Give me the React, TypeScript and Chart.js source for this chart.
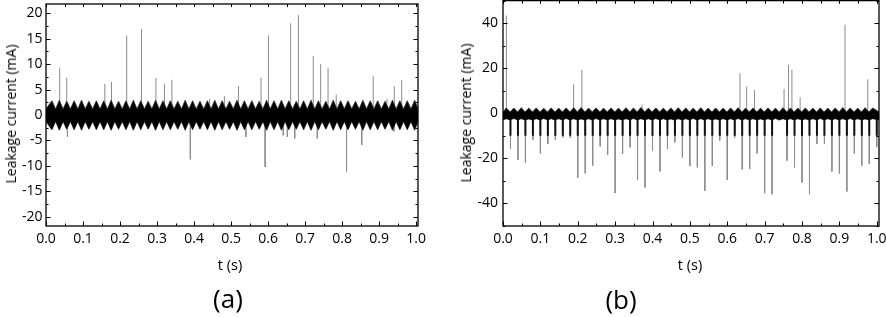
import React, { useEffect, useRef } from "react";
import { Chart, registerables } from "chart.js";

Chart.register(...registerables);

const FONT = "'Open Sans', 'Noto Sans', 'DejaVu Sans', sans-serif";

// ---------- Shared tick labels ----------
const xTickVals = [0.0, 0.1, 0.2, 0.3, 0.4, 0.5, 0.6, 0.7, 0.8, 0.9, 1.0];

// ---------- Panel (a) ----------
const aYTickVals = [-20, -15, -10, -5, 0, 5, 10, 15, 20];
const aCycleT = [
  0.016, 0.036, 0.056, 0.076, 0.096, 0.116, 0.136, 0.156, 0.176, 0.196,
  0.216, 0.236, 0.256, 0.276, 0.296, 0.316, 0.336, 0.356, 0.376, 0.396,
  0.416, 0.436, 0.456, 0.476, 0.496, 0.516, 0.536, 0.556, 0.576, 0.596,
  0.616, 0.636, 0.656, 0.676, 0.696, 0.716, 0.736, 0.756, 0.776, 0.796,
  0.816, 0.836, 0.856, 0.876, 0.896, 0.916, 0.936, 0.956, 0.976, 0.996,
];
const aCycleHi = [
  2.8, 2.9, 2.7, 2.8, 2.9, 2.7, 2.8, 2.8, 2.9, 2.7,
  2.8, 2.9, 2.8, 2.7, 2.9, 2.8, 2.8, 2.7, 2.9, 2.8,
  2.7, 2.8, 2.9, 2.8, 2.7, 2.9, 2.8, 2.8, 2.7, 2.9,
  2.8, 2.9, 2.8, 2.7, 2.8, 2.9, 2.8, 2.7, 2.9, 2.8,
  2.8, 2.7, 2.9, 2.8, 2.8, 2.7, 2.9, 2.8, 2.8, 2.9,
];
const aCycleLo = [
  -2.9, -3.0, -2.8, -2.9, -3.0, -2.8, -2.9, -2.9, -3.0, -2.8,
  -2.9, -3.0, -2.9, -2.8, -3.0, -2.9, -2.9, -2.8, -3.0, -2.9,
  -2.8, -2.9, -3.0, -2.9, -2.8, -3.0, -2.9, -2.9, -2.8, -3.0,
  -2.9, -3.0, -2.9, -2.8, -2.9, -3.0, -2.9, -2.8, -3.0, -2.9,
  -2.9, -2.8, -3.0, -2.9, -2.9, -2.8, -3.0, -2.9, -2.9, -3.0,
];
const A_WAIST_HI = 1.2;
const A_WAIST_LO = -1.3;
const aSpikeT = [
  0.037, 0.056, 0.159, 0.177, 0.218, 0.258, 0.297, 0.320, 0.340, 0.442,
  0.482, 0.520, 0.581, 0.601, 0.661, 0.682, 0.722, 0.742, 0.762, 0.784,
  0.884, 0.921, 0.941, 0.961,
  0.058, 0.390, 0.540, 0.592, 0.641, 0.652, 0.672, 0.733, 0.812, 0.853, 0.940,
];
const aSpikeV = [
  9.3, 7.3, 6.1, 6.5, 15.6, 16.9, 7.3, 6.1, 6.9, 3.2,
  3.7, 5.7, 7.3, 15.6, 18.0, 19.6, 11.6, 10.0, 9.3, 4.0,
  7.6, 3.2, 5.7, 6.9,
  -4.3, -8.7, -4.3, -10.2, -4.0, -4.3, -4.6, -4.6, -11.1, -5.9, -3.2,
];

// ---------- Panel (b) ----------
const bYTickVals = [-40, -20, 0, 20, 40];
const bCycleT = [
  0.009, 0.029, 0.049, 0.069, 0.089, 0.109, 0.129, 0.149, 0.169, 0.189,
  0.209, 0.229, 0.249, 0.269, 0.289, 0.309, 0.329, 0.349, 0.369, 0.389,
  0.409, 0.429, 0.449, 0.469, 0.489, 0.509, 0.529, 0.549, 0.569, 0.589,
  0.609, 0.629, 0.649, 0.669, 0.689, 0.709, 0.729, 0.749, 0.769, 0.789,
  0.809, 0.829, 0.849, 0.869, 0.889, 0.909, 0.929, 0.949, 0.969, 0.989,
];
const bCycleHi = [
  2.4, 2.3, 2.5, 2.3, 2.4, 2.2, 2.4, 2.3, 2.4, 2.5,
  2.6, 2.3, 2.4, 2.3, 2.4, 2.3, 2.5, 2.4, 2.6, 2.3,
  2.4, 2.3, 2.4, 2.5, 2.4, 2.3, 2.5, 2.3, 2.4, 2.3,
  2.4, 2.5, 2.3, 2.4, 2.3, 2.4, 2.3, 2.5, 2.4, 2.3,
  2.4, 2.3, 2.4, 2.3, 2.4, 2.6, 2.4, 2.3, 2.5, 2.4,
];
const bCycleLo = [
  -2.4, -2.3, -2.4, -2.5, -2.4, -2.3, -2.4, -2.4, -2.3, -2.4,
  -2.5, -2.4, -2.3, -2.4, -2.4, -2.5, -2.4, -2.3, -2.4, -2.4,
  -2.3, -2.4, -2.5, -2.4, -2.4, -2.3, -2.4, -2.4, -2.5, -2.4,
  -2.4, -2.3, -2.4, -2.4, -2.5, -2.4, -2.3, -2.4, -2.4, -2.4,
  -2.5, -2.4, -2.3, -2.4, -2.4, -2.4, -2.3, -2.4, -2.5, -2.4,
];
const B_WAIST_HI = 0.6;
const B_WAIST_LO = -3.0;
const bNegT = [
  0.02, 0.04, 0.06, 0.08, 0.10, 0.12, 0.14, 0.16, 0.18, 0.20,
  0.22, 0.24, 0.26, 0.28, 0.30, 0.32, 0.34, 0.36, 0.38, 0.40,
  0.42, 0.44, 0.46, 0.48, 0.50, 0.52, 0.54, 0.56, 0.58, 0.60,
  0.62, 0.64, 0.66, 0.68, 0.70, 0.72, 0.74, 0.76, 0.78, 0.80,
  0.82, 0.84, 0.86, 0.88, 0.90, 0.92, 0.94, 0.96, 0.98, 1.00,
];
const bNegV = [
  -15.8, -20.7, -21.8, -11.8, -17.8, -13.6, -11.8, -10.7, -10.9, -28.7,
  -26.7, -23.2, -14.7, -18.4, -35.4, -18.0, -15.1, -29.6, -32.9, -16.6,
  -25.8, -15.8, -12.9, -19.6, -23.4, -24.0, -34.4, -23.4, -12.1, -29.6,
  -10.7, -24.9, -24.7, -17.8, -35.4, -35.9, -2.5, -21.0, -24.0, -30.7,
  -35.9, -13.6, -13.6, -25.8, -26.7, -34.7, -17.8, -23.2, -22.5, -15.0,
];
const bPosT = [0.009, 0.189, 0.211, 0.372, 0.634, 0.652, 0.673, 0.752, 0.764, 0.773, 0.795, 0.915, 0.976];
const bPosV = [43.4, 12.8, 19.3, 3.9, 17.8, 11.9, 10.4, 10.8, 21.6, 19.3, 7.1, 39.3, 15.1];

const Y_TITLE = "Leakage current (mA)";
const X_TITLE = "t (s)";

type Pt = { x: number; y: number | null };

function buildEnvelope(ts: number[], peaks: number[], waist: number, xMin: number, xMax: number): Pt[] {
  const out: Pt[] = [{ x: xMin, y: waist }];
  ts.forEach((t, i) => {
    out.push({ x: t, y: peaks[i] });
    if (i < ts.length - 1) out.push({ x: (t + ts[i + 1]) / 2, y: waist });
  });
  out.push({ x: xMax, y: waist });
  return out;
}

function buildSpikes(ts: number[], vs: number[], clip?: number): Pt[] {
  const out: Pt[] = [];
  ts.forEach((t, i) => {
    const v = clip === undefined ? vs[i] : Math.max(vs[i], clip);
    out.push({ x: t, y: 0 }, { x: t, y: v }, { x: t, y: null });
  });
  return out;
}

const frameTicks = {
  id: "frameTicks",
  afterDraw(chart: any, _args: any, opts: any) {
    const { ctx, chartArea: a, scales } = chart;
    const x = scales.x;
    const y = scales.y;
    ctx.save();
    ctx.strokeStyle = "#000";
    ctx.lineWidth = 1;
    const xTicks = (step: number, len: number, lenTop: number) => {
      const i0 = Math.ceil(x.min / step - 1e-6);
      const i1 = Math.floor(x.max / step + 1e-6);
      for (let i = i0; i <= i1; i++) {
        const px = Math.round(x.getPixelForValue(i * step)) + 0.5;
        ctx.beginPath();
        ctx.moveTo(px, a.bottom);
        ctx.lineTo(px, a.bottom - len);
        ctx.moveTo(px, a.top);
        ctx.lineTo(px, a.top + lenTop);
        ctx.stroke();
      }
    };
    const yTicks = (step: number, len: number) => {
      const i0 = Math.ceil(y.min / step - 1e-6);
      const i1 = Math.floor(y.max / step + 1e-6);
      for (let i = i0; i <= i1; i++) {
        const py = Math.round(y.getPixelForValue(i * step)) + 0.5;
        ctx.beginPath();
        ctx.moveTo(a.left, py);
        ctx.lineTo(a.left + len, py);
        ctx.moveTo(a.right, py);
        ctx.lineTo(a.right - len, py);
        ctx.stroke();
      }
    };
    xTicks(opts.xMinor, 2.5, 3);
    xTicks(opts.xMajor, 4.5, 3);
    yTicks(opts.yMinor, 2.5);
    yTicks(opts.yMajor, 4.5);
    ctx.lineWidth = 1.3;
    ctx.strokeRect(a.left, a.top, a.width, a.height);
    ctx.restore();
  },
};

type Panel = {
  upper: Pt[];
  lower: Pt[];
  spikes: Pt[];
  core?: Pt[];
  xMax: number;
  yMin: number;
  yMax: number;
  yTicks: number[];
  yStep: number;
  yMinor: number;
  yAxisWidth: number;
  yPad: number;
  padTop: number;
  padRight: number;
};

function makeChart(canvas: HTMLCanvasElement, p: Panel) {
  const datasets: any[] = [
    { data: p.upper, fill: "+1", backgroundColor: "#000", borderColor: "#2a2a2a", borderWidth: 0.8, pointRadius: 0 },
    { data: p.lower, fill: false, borderColor: "#2a2a2a", borderWidth: 0.8, pointRadius: 0 },
  ];
  if (p.core) {
    datasets.push({ data: p.core, fill: false, borderColor: "#111", borderWidth: 2, pointRadius: 0, spanGaps: false });
  }
  datasets.push({ data: p.spikes, fill: false, borderColor: "#8c8c8c", borderWidth: 1, pointRadius: 0, spanGaps: false });
  return new Chart(canvas, {
    type: "line",
    data: { datasets },
    plugins: [frameTicks],
    options: {
      responsive: false,
      animation: false,
      events: [],
      layout: { padding: { left: 0, top: p.padTop, right: p.padRight, bottom: 0 } },
      plugins: {
        legend: { display: false },
        tooltip: { enabled: false },
        frameTicks: { xMajor: 0.1, xMinor: 0.05, yMajor: p.yStep, yMinor: p.yMinor },
      } as any,
      scales: {
        x: {
          type: "linear",
          min: 0,
          max: p.xMax,
          afterBuildTicks: (s: any) => { s.ticks = xTickVals.map((v) => ({ value: v })); },
          afterFit: (s: any) => { s.height = 91; s.paddingLeft = 0; s.paddingRight = 0; },
          grid: { display: false, drawTicks: false },
          border: { display: false },
          ticks: {
            autoSkip: false,
            maxRotation: 0,
            padding: 5,
            color: "#000",
            font: { family: FONT, size: 14 },
            callback: (v: any) => Number(v).toFixed(1),
          },
        },
        y: {
          type: "linear",
          min: p.yMin,
          max: p.yMax,
          afterBuildTicks: (s: any) => { s.ticks = p.yTicks.map((v) => ({ value: v })); },
          afterFit: (s: any) => { s.width = p.yAxisWidth; s.paddingTop = 0; s.paddingBottom = 0; },
          grid: { display: false, drawTicks: false },
          border: { display: false },
          ticks: {
            autoSkip: false,
            padding: p.yPad,
            color: "#000",
            font: { family: FONT, size: 14 },
            callback: (v: any) => String(Math.round(Number(v))),
          },
        },
      },
    } as any,
  });
}

function Label(props: { x: number; y: number; text: string; size: number; rotate?: boolean }) {
  return (
    <div
      style={{
        position: "absolute",
        left: props.x,
        top: props.y,
        transform: `translate(-50%, -50%)${props.rotate ? " rotate(-90deg)" : ""}`,
        whiteSpace: "nowrap",
        fontFamily: FONT,
        fontSize: props.size,
        lineHeight: 1,
        color: "#000",
      }}
    >
      {props.text}
    </div>
  );
}

export default function App() {
  const refA = useRef<HTMLCanvasElement>(null);
  const refB = useRef<HTMLCanvasElement>(null);

  useEffect(() => {
    const A_XMAX = 1.005;
    const B_XMAX = 1.006;
    const ca = makeChart(refA.current!, {
      upper: buildEnvelope(aCycleT, aCycleHi, A_WAIST_HI, 0, A_XMAX),
      lower: buildEnvelope(aCycleT, aCycleLo, A_WAIST_LO, 0, A_XMAX),
      spikes: buildSpikes(aSpikeT, aSpikeV),
      xMax: A_XMAX,
      yMin: -21.8,
      yMax: 21.8,
      yTicks: aYTickVals,
      yStep: 5,
      yMinor: 2.5,
      yAxisWidth: 46,
      yPad: 3.5,
      padTop: 4,
      padRight: 25,
    });
    const cb = makeChart(refB.current!, {
      upper: buildEnvelope(bCycleT, bCycleHi, B_WAIST_HI, 0, B_XMAX),
      lower: buildEnvelope(bCycleT, bCycleLo, B_WAIST_LO, 0, B_XMAX),
      spikes: buildSpikes(bNegT.concat(bPosT), bNegV.concat(bPosV)),
      core: buildSpikes(bNegT, bNegV, -10),
      xMax: B_XMAX,
      yMin: -50,
      yMax: 50,
      yTicks: bYTickVals,
      yStep: 20,
      yMinor: 10,
      yAxisWidth: 60,
      yPad: 5,
      padTop: 0.6,
      padRight: 7,
    });
    return () => {
      ca.destroy();
      cb.destroy();
    };
  }, []);

  return (
    <div style={{ position: "absolute", left: 0, top: 0, width: 886, height: 317, background: "#fff", overflow: "hidden" }}>
      <canvas ref={refA} width={443} height={317} style={{ position: "absolute", left: 0, top: 0 }} />
      <canvas ref={refB} width={443} height={317} style={{ position: "absolute", left: 443, top: 0 }} />
      <Label x={10.5} y={114} text={Y_TITLE} size={14} rotate />
      <Label x={466} y={112.5} text={Y_TITLE} size={14} rotate />
      <Label x={230} y={265} text={X_TITLE} size={14.5} />
      <Label x={690} y={265} text={X_TITLE} size={14.5} />
      <Label x={228} y={298} text="(a)" size={26} />
      <Label x={621} y={299} text="(b)" size={26} />
    </div>
  );
}
